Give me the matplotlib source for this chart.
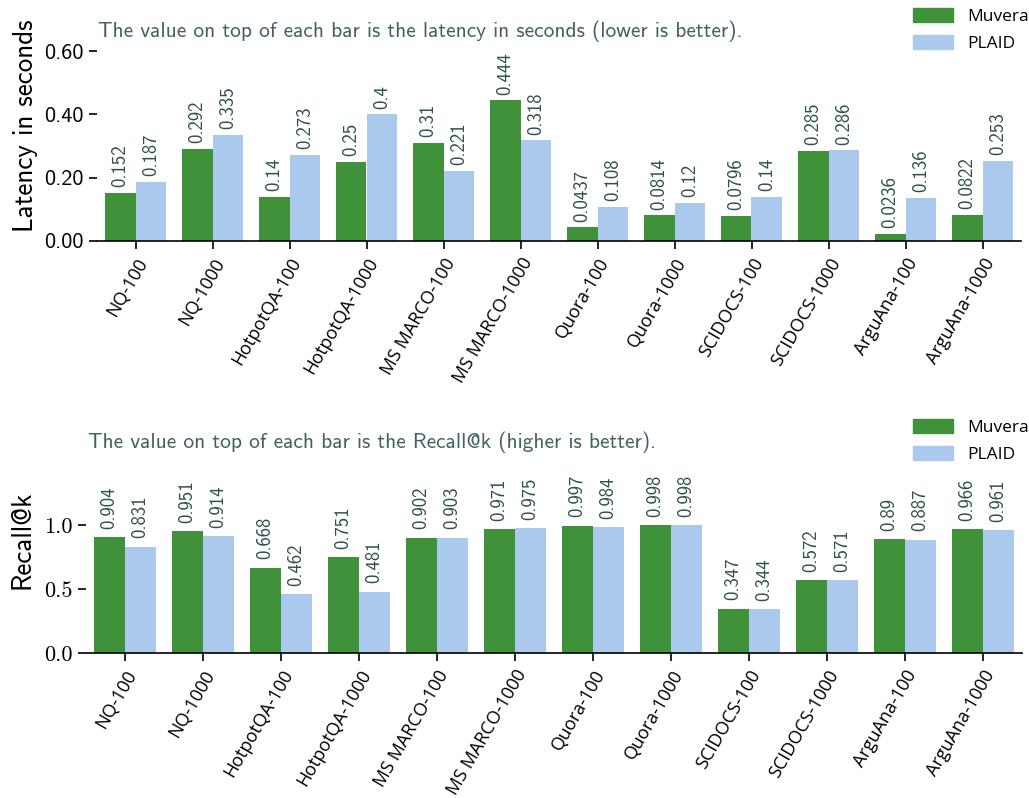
import matplotlib
matplotlib.use("Agg")
import matplotlib.pyplot as plt
import numpy as np
from matplotlib.patches import Patch

categories = ["NQ-100", "NQ-1000", "HotpotQA-100", "HotpotQA-1000", "MS MARCO-100",
              "MS MARCO-1000", "Quora-100", "Quora-1000", "SCIDOCS-100", "SCIDOCS-1000",
              "ArguAna-100", "ArguAna-1000"]
series = ["Muvera", "PLAID"]
latency_muvera = [0.152, 0.292, 0.14, 0.25, 0.31, 0.444, 0.0437, 0.0814, 0.0796, 0.285, 0.0236, 0.0822]
latency_plaid = [0.187, 0.335, 0.273, 0.4, 0.221, 0.318, 0.108, 0.12, 0.14, 0.286, 0.136, 0.253]
recall_muvera = [0.904, 0.951, 0.668, 0.751, 0.902, 0.971, 0.997, 0.998, 0.347, 0.572, 0.89, 0.966]
recall_plaid = [0.831, 0.914, 0.462, 0.481, 0.903, 0.975, 0.984, 0.998, 0.344, 0.571, 0.887, 0.961]
latency_ticks = [0.0, 0.2, 0.4, 0.6]
latency_ticklabels = ["0.00", "0.20", "0.40", "0.60"]
recall_ticks = [0.0, 0.5, 1.0]
recall_ticklabels = ["0.0", "0.5", "1.0"]

GREEN = "#3f923a"
BLUE = "#abc9ec"
TXT = "#2f4f4f"
SANS = ["cmss10", "DejaVu Sans"]
SERIF = ["cmr10", "DejaVu Serif"]
TICKF = ["Open Sans", "DejaVu Sans"]

fig = plt.figure(figsize=(10.29, 7.98), dpi=100)
W, H = 1029, 798

def px_axes(left, right, top, bottom):
    return fig.add_axes([left / W, (H - bottom) / H, (right - left) / W, (bottom - top) / H])

ax1 = px_axes(97, 1021, 44.7, 241)
ax2 = px_axes(86, 1022, 474, 653)

def draw(ax, a, b, ylim, ticks, ticklabels, tickfont, ylabel, lab_xy, title, title_xy, off_pt):
    x = np.arange(len(categories))
    w = 0.4
    ax.bar(x - w / 2, a, width=w, color=GREEN, label=series[0])
    ax.bar(x + w / 2, b, width=w, color=BLUE, label=series[1])
    for xs, vals in ((x - w / 2, a), (x + w / 2, b)):
        for xi, v in zip(xs, vals):
            ax.annotate("{:.3g}".format(v), (xi, v), xytext=(0, off_pt),
                        textcoords="offset points", rotation=90, ha="center", va="bottom",
                        color=TXT, fontsize=13.5, family=SANS)
    ax.set_xlim(-0.5, len(categories) - 0.5)
    ax.set_ylim(*ylim)
    ax.set_xticks(x)
    ax.set_xticklabels(categories, rotation=60, ha="right", rotation_mode="anchor",
                       family=TICKF, fontsize=13)
    ax.set_yticks(ticks)
    ax.set_yticklabels(ticklabels, family=tickfont, fontsize=16)
    ax.tick_params(axis="both", length=6, width=1.2, colors="black")
    ax.tick_params(axis="x", pad=4)
    for s in ["left", "top", "right"]:
        ax.spines[s].set_visible(False)
    ax.spines["bottom"].set_linewidth(1.2)
    ax.set_ylabel(ylabel, family=SANS, fontsize=19.5)
    ax.yaxis.set_label_coords(*lab_xy)
    fig.text(title_xy[0] / W, (H - title_xy[1]) / H, title, family=SANS, fontsize=15.4,
             color=TXT, ha="left", va="center", alpha=0.9)

draw(ax1, latency_muvera, latency_plaid, (0, 0.62), latency_ticks, latency_ticklabels, SANS,
     "Latency in seconds", (-0.064, 0.587),
     "The value on top of each bar is the latency in seconds (lower is better).", (98, 31), 4.0)
draw(ax2, recall_muvera, recall_plaid, (0, 1.4), recall_ticks, recall_ticklabels, SERIF,
     "Recall@k", (-0.055, 0.63),
     "The value on top of each bar is the Recall@k (higher is better).", (88, 442), 6.0)

handles = [Patch(color=GREEN, label=series[0]), Patch(color=BLUE, label=series[1])]
for ytop in [8, 419]:
    fig.legend(handles=handles, loc="upper left", bbox_to_anchor=(913 / W, (H - ytop) / H),
               frameon=False, prop={"family": TICKF, "size": 12.5}, handlelength=2.3,
               handleheight=0.85, handletextpad=0.8, labelspacing=0.6, borderaxespad=0,
               borderpad=0)

fig.savefig("out.png", dpi=100)
